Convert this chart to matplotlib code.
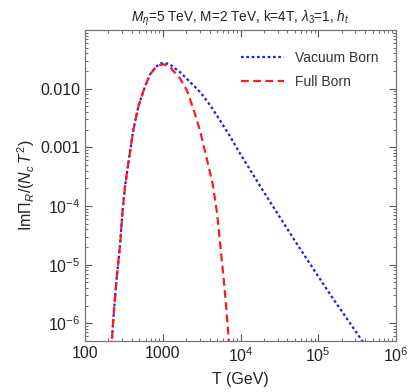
import matplotlib
matplotlib.use("Agg")
import matplotlib.pyplot as plt
from matplotlib.ticker import LogLocator, FixedLocator, FixedFormatter, NullFormatter

plt.rcParams['font.family'] = ['Liberation Sans', 'DejaVu Sans']
plt.rcParams['mathtext.fontset'] = 'custom'
plt.rcParams['mathtext.rm'] = 'Liberation Sans'
plt.rcParams['mathtext.it'] = 'Liberation Sans:italic'

title = r"$M_\eta$=5 TeV, M=2 TeV, k=4T, $\lambda_3$=1, $h_t$"
xlabel = "T (GeV)"
ylabel = r"$\mathrm{Im}\Pi_R/(N_c\, T^2)$"

# Vacuum Born
T_vac = [205, 221, 239, 256, 283, 303, 328, 362, 420, 488, 594, 690, 800, 929, 1076,
         1250, 1683, 2265, 3050, 4100, 5250, 7430, 9500, 20000, 53800, 145000,
         390000, 500000]
y_vac = [1.3e-7, 5.2e-7, 2.18e-6, 6.2e-6, 2.29e-5, 8.1e-5, 2.24e-4, 5.58e-4, 2.07e-3,
         5.14e-3, 1.12e-2, 1.78e-2, 2.3e-2, 2.69e-2, 2.74e-2, 2.56e-2, 1.89e-2,
         1.28e-2, 8.65e-3, 5.14e-3, 3.1e-3, 1.5e-3, 8.5e-4, 1.72e-4, 2.2e-5, 3.0e-6,
         4.5e-7, 2.7e-7]

# Full Born
T_full = [205, 221, 239, 256, 283, 303, 328, 362, 420, 488, 594, 690, 800, 929, 1000,
          1076, 1250, 1683, 2050, 2490, 3050, 3900, 4400, 5000, 5520, 6090, 6540, 7060, 7400]
y_full = [1.3e-7, 5.2e-7, 2.18e-6, 6.2e-6, 2.29e-5, 8.1e-5, 2.24e-4, 5.58e-4, 2.07e-3,
          5.14e-3, 1.12e-2, 1.76e-2, 2.25e-2, 2.54e-2, 2.59e-2,
          2.55e-2, 2.32e-2, 1.46e-2, 9.25e-3, 4.4e-3, 1.8e-3, 4.6e-4, 2.3e-4, 7.4e-5,
          2.0e-5, 5.43e-6, 1.91e-6, 5.2e-7, 2.3e-7]

xticks = [100, 1000, 1e4, 1e5, 1e6]
xticklabels = ["100", "1000", r"$10^4$", r"$10^5$", r"$10^6$"]
yticks = [1e-6, 1e-5, 1e-4, 1e-3, 1e-2]
yticklabels = [r"$10^{-6}$", r"$10^{-5}$", r"$10^{-4}$", "0.001", "0.010"]

fig = plt.figure(figsize=(4.11, 3.92), dpi=100)
ax = fig.add_axes([0.207, 0.130, 0.7565, 0.7935])

ax.plot(T_vac, y_vac, color=(0.1, 0.1, 1.0), linestyle=(0, (1.2, 1.2)), lw=1.6,
        label="Vacuum Born")
ax.plot(T_full, y_full, color=(1.0, 0.1, 0.1), linestyle=(0, (3.5, 2.0)), lw=1.6,
        label="Full Born")

ax.set_xscale('log')
ax.set_yscale('log')
ax.set_xlim(100, 1e6)
ax.set_ylim(5e-7, 0.1)

ax.xaxis.set_major_locator(FixedLocator(xticks))
ax.xaxis.set_major_formatter(FixedFormatter(xticklabels))
ax.yaxis.set_major_locator(FixedLocator(yticks))
ax.yaxis.set_major_formatter(FixedFormatter(yticklabels))
ax.xaxis.set_minor_locator(LogLocator(base=10, subs=range(2, 10), numticks=20))
ax.yaxis.set_minor_locator(LogLocator(base=10, subs=range(2, 10), numticks=20))
ax.xaxis.set_minor_formatter(NullFormatter())
ax.yaxis.set_minor_formatter(NullFormatter())

ax.tick_params(which='both', direction='in', top=True, right=True, colors='#555555',
               labelcolor='#222222', labelsize=11.5)
ax.tick_params(which='major', length=5, width=0.8)
ax.tick_params(which='minor', length=2.5, width=0.6)
for s in ax.spines.values():
    s.set_color('#777777')
    s.set_linewidth(0.9)

ax.set_title(title, fontsize=9.8, color='#222222', pad=6)
ax.set_xlabel(xlabel, fontsize=11.5, color='#222222', labelpad=5)
ax.set_ylabel(ylabel, fontsize=11.5, color='#222222', labelpad=2)

leg = ax.legend(loc='upper right', frameon=False, fontsize=10, handlelength=3.1,
                handletextpad=0.8, labelspacing=0.75, borderaxespad=1.2,
                labelcolor='#333333', bbox_to_anchor=(1.015, 1.005))

fig.savefig("out.png", dpi=100)
